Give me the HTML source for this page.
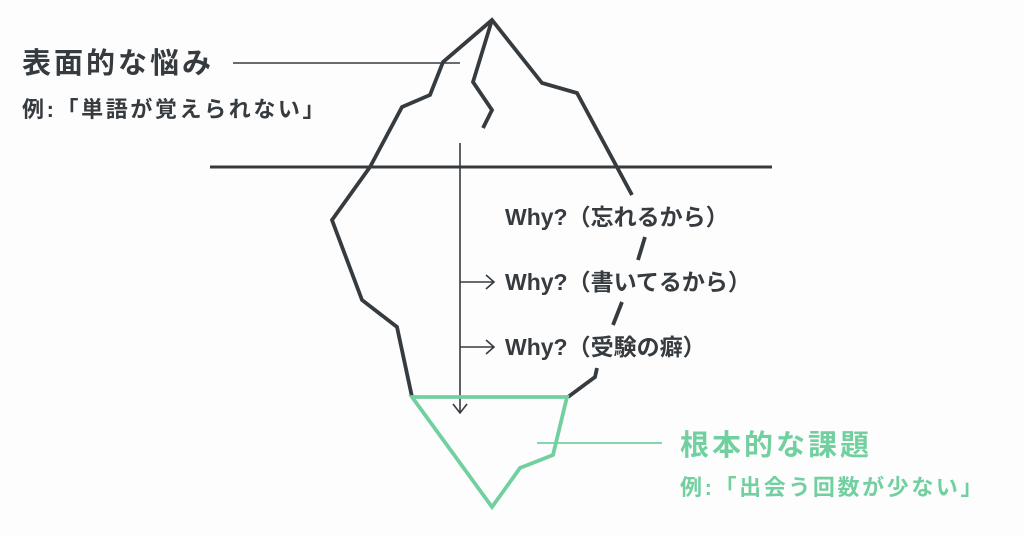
<!DOCTYPE html>
<html><head><meta charset="utf-8"><style>
html,body{margin:0;padding:0;background:#fdfdfd;}
svg{display:block}
text{font-family:"Liberation Sans","Noto Sans CJK JP",sans-serif;font-weight:bold;}
</style></head><body>
<svg width="1024" height="536" viewBox="0 0 1024 536" xmlns="http://www.w3.org/2000/svg">
<rect width="1024" height="536" fill="#fdfdfd"/>
<g fill="none" stroke="#363b40" stroke-width="3.8" stroke-linejoin="miter" stroke-linecap="butt">
<polyline points="412,397 397,327 362,300 332,220 370,167 402,107 430,95 443,62 492,20 542,83 577,93 632,195"/>
<polyline points="492,20 473,82 492,110 483,128"/>
<line x1="645" y1="237" x2="638" y2="260"/>
<line x1="622" y1="302" x2="613" y2="325"/>
<polyline points="597,368 595,377 568,397"/>
<line x1="210" y1="167" x2="772" y2="167" stroke-width="3"/>
</g>
<g fill="none" stroke="#363b40" stroke-width="1.6">
<line x1="233" y1="63" x2="460" y2="63"/>
<line x1="460" y1="143" x2="460" y2="413"/>
<polyline points="453,404 460,413 467,404"/>
<line x1="460" y1="282" x2="494" y2="282"/>
<polyline points="486,275 494,282 486,289"/>
<line x1="460" y1="347" x2="494" y2="347"/>
<polyline points="486,340 494,347 486,354"/>
</g>
<g fill="none" stroke="#72d0a0" stroke-width="3.8">
<polygon points="412,397 567,397 553,455 520,468 492,507"/>
</g>
<line x1="537" y1="443" x2="662" y2="443" stroke="#72d0a0" stroke-width="1.8"/>
<g fill="#363b40">
<text x="22" y="73" font-size="29" letter-spacing="3">表面的な悩み</text>
<text x="22" y="117" font-size="22" letter-spacing="2.6">例:「単語が覚えられない」</text>
<text x="505" y="225" font-size="23">Why?（忘れるから）</text>
<text x="505" y="290" font-size="23">Why?（書いてるから）</text>
<text x="505" y="355" font-size="23">Why?（受験の癖）</text>
</g>
<g fill="#72d0a0">
<text x="680" y="455" font-size="29" letter-spacing="3">根本的な課題</text>
<text x="680" y="495" font-size="22" letter-spacing="2.6">例:「出会う回数が少ない」</text>
</g>
</svg>
</body></html>
